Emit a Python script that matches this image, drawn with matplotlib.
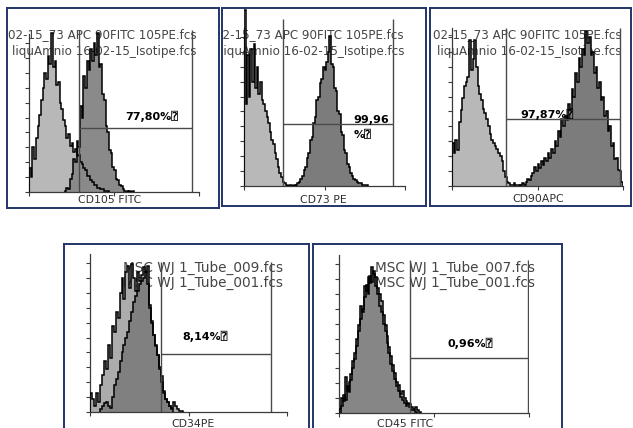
import numpy as np
import matplotlib
matplotlib.use("Agg")
import matplotlib.pyplot as plt

W, H = 633, 428
NAVY = "#22346a"

# 100 log-spaced channels over 4 decades, heights in % of the y axis
edges = np.logspace(0, 4, 101)

# CD105 FITC
iso1_start = 0
iso1 = [16, 10, 30, 22, 36, 44, 52, 62, 70, 80, 76, 91, 86, 107, 84, 88, 72, 74, 60, 56,
        48, 44, 36, 39, 31, 33, 27, 29, 24, 25, 20, 19, 16, 15, 11, 11, 8, 7, 5, 5,
        3, 3, 2, 2, 1, 1, 1]
cd105_start = 21
cd105 = [1, 3, 2, 9, 12, 22, 20, 34, 30, 58, 50, 78, 70, 88, 82, 96, 88, 100, 92, 107,
         84, 86, 66, 62, 44, 40, 28, 26, 17, 15, 9, 8, 5, 4, 2, 1, 1, 0, 1, 0, 1]

# CD73 PE
iso2_start = 0
iso2 = [118, 55, 88, 60, 92, 70, 95, 66, 80, 62, 70, 58, 55, 50, 46, 42, 36, 31, 28, 22,
        18, 13, 9, 6, 3, 2, 1, 0, 1, 1, 0, 1]
cd73_start = 32
cd73 = [1, 2, 3, 5, 7, 11, 13, 19, 22, 31, 33, 42, 46, 58, 60, 69, 72, 80, 78, 83,
        90, 101, 82, 80, 66, 64, 50, 48, 36, 34, 24, 22, 15, 13, 9, 7, 5, 4, 3, 2,
        2, 1, 1, 1, 1]

# CD90 APC
iso3_start = 0
iso3 = [29, 22, 31, 24, 43, 51, 59, 67, 70, 73, 98, 78, 85, 98, 80, 67, 62, 58, 52, 49,
        45, 40, 35, 31, 29, 27, 25, 22, 20, 17, 10, 6, 3, 2, 1, 1, 2, 1, 1, 1]
cd90_start = 40
cd90 = [1, 2, 1, 3, 5, 4, 7, 9, 13, 10, 15, 12, 17, 14, 19, 17, 22, 19, 25, 22,
        30, 27, 37, 33, 45, 40, 47, 44, 55, 52, 65, 60, 76, 70, 86, 80, 92, 88, 104, 96,
        100, 88, 90, 76, 80, 66, 70, 58, 60, 47, 50, 37, 40, 27, 29, 18, 19, 11, 10, 3]

# CD34 PE
tube009_start = 0
tube009 = [13, 9, 4, 13, 7, 18, 25, 34, 29, 45, 36, 58, 54, 67, 63, 80, 90, 76, 94, 98,
           83, 99, 90, 81, 94, 88, 92, 97, 94, 98, 72, 61, 52, 45, 38, 29, 20, 14, 9, 7,
           4, 3, 7, 4, 2, 1, 1]
tube001a_start = 5
tube001a = [2, 4, 6, 7, 4, 3, 10, 18, 22, 27, 34, 40, 45, 50, 54, 61, 67, 74, 78, 81,
            86, 88, 90, 94, 86, 70, 60, 52, 44, 38, 30, 24, 13, 9, 7, 4, 2]

# CD45 FITC
tube007_start = 0
tube007 = [3, 10, 8, 24, 15, 21, 26, 35, 40, 50, 59, 72, 68, 85, 82, 91, 87, 98, 93, 91,
           84, 80, 75, 66, 59, 52, 44, 38, 32, 27, 21, 19, 13, 15, 10, 8, 7, 6, 4, 3,
           4, 2, 1]
tube001b_start = 1
tube001b = [5, 12, 9, 18, 14, 22, 30, 36, 45, 55, 63, 70, 78, 86, 80, 92, 88, 95, 85, 80,
            72, 68, 60, 55, 47, 40, 33, 28, 23, 18, 15, 11, 9, 7, 5, 6, 4, 2, 2, 1]

axis_labels = ["CD105 FITC", "CD73 PE", "CD90APC", "CD34PE", "CD45 FITC"]
header1 = ["02-15_73 APC 90FITC 105PE.fcs", "02-15_73 APC 90FITC 105PE.fcs",
           "02-15_73 APC 90FITC 105PE.fcs", "MSC WJ 1_Tube_009.fcs", "MSC WJ 1_Tube_007.fcs"]
header2 = ["liquAmnio 16-02-15_Isotipe.fcs", "liquAmnio 16-02-15_Isotipe.fcs",
           "liquAmnio 16-02-15_Isotipe.fcs", "MSC WJ 1_Tube_001.fcs", "MSC WJ 1_Tube_001.fcs"]
pct_labels = ["77,80%\u2370", "99,96\n%\u2370", "97,87%\u2370", "8,14%\u2370", "0,96%\u2370"]
gate_lo = [15.0, 9.1, 18.7, 27.5, 31.0]
gate_hi = [6900, 4900, 8300, 4750, 9600]
gate_y = [42.7, 41.6, 45.0, 38.7, 36.6]
gate_top = [109, 112, 106, 101, 103]
label_x = [760, 525, 170, 219, 570]
label_y = [50.5, 39.0, 48.0, 50.6, 47.0]

series = [
    [(iso1_start, iso1, "#b8b8b8"), (cd105_start, cd105, "#8a8a8a")],
    [(iso2_start, iso2, "#b8b8b8"), (cd73_start, cd73, "#7c7c7c")],
    [(iso3_start, iso3, "#b8b8b8"), (cd90_start, cd90, "#7c7c7c")],
    [(tube009_start, tube009, "#acacac"), (tube001a_start, tube001a, "#808080")],
    [(tube007_start, tube007, "#9c9c9c"), (tube001b_start, tube001b, "#868686")],
]

# layout in pixels
boxes = [(7, 8, 219, 208), (222, 8, 426, 206), (430, 8, 631, 206),
         (64, 244, 309, 440), (313, 244, 562, 440)]
plots = [(29, 199, 192), (244, 405, 186), (452, 623, 186), (90, 287, 412), (339, 529, 413)]
text_right = [197, 404, 622, 283, 535]
text_y = [(35, 52), (35, 52), (35, 52), (268, 283), (268, 283)]
text_size = [8.6, 8.6, 8.6, 9.8, 9.8]
xlab_pos = [(110, 200), (323, 200), (538, 199), (193, 424), (405, 424)]
SCALE = 149.0  # pixels per 100 %

fig = plt.figure(figsize=(W / 100, H / 100), dpi=100)


def px_axes(x0, y0, x1, y1):
    return fig.add_axes([x0 / W, 1 - y1 / H, (x1 - x0) / W, (y1 - y0) / H])


for i in range(5):
    bx0, by0, bx1, by1 = boxes[i]
    box = px_axes(bx0, by0, bx1, by1)
    box.set_xticks([])
    box.set_yticks([])
    box.set_xlim(bx0, bx1)
    box.set_ylim(by1, by0)
    for s in box.spines.values():
        s.set_color(NAVY)
        s.set_linewidth(1.4)
    for txt, ty in zip((header1[i], header2[i]), text_y[i]):
        box.text(text_right[i], ty, txt, ha="right", va="center", fontsize=text_size[i],
                 color="#454545", clip_on=True)
    box.text(xlab_pos[i][0], xlab_pos[i][1], axis_labels[i], ha="center", va="center",
             fontsize=7.8, color="#303030", clip_on=True)

    px0, px1, base = plots[i]
    ax = px_axes(px0, by0 + 1, px1, base)
    ax.set_facecolor("none")
    ax.set_xscale("log")
    ax.set_xlim(1, 1e4)
    ax.set_ylim(0, 100 * (base - by0 - 1) / SCALE)
    for name in ("top", "right"):
        ax.spines[name].set_visible(False)
    ax.spines["left"].set_bounds(0, 106)
    for name in ("left", "bottom"):
        ax.spines[name].set_color("#3a3a3a")
        ax.spines[name].set_linewidth(0.9)
    ax.set_yticks(range(0, 101, 10))
    ax.tick_params(axis="y", direction="out", length=3, width=0.8, color="#3a3a3a",
                   labelleft=False)
    ax.tick_params(axis="x", which="major", direction="out", length=3, width=0.8,
                   color="#3a3a3a", labelbottom=False)
    ax.tick_params(axis="x", which="minor", direction="out", length=2, width=0.7,
                   color="#3a3a3a", labelbottom=False)

    for start, vals, col in series[i]:
        e = edges[start:start + len(vals) + 1]
        ax.stairs(vals, e, fill=True, color=col, lw=0, zorder=2)
    for start, vals, col in series[i]:
        e = edges[start:start + len(vals) + 1]
        ax.stairs(vals, e, fill=False, color="black", lw=1.1, zorder=3)

    ax.vlines([gate_lo[i], gate_hi[i]], 0, gate_top[i], color="#4a4a4a", lw=1.0, zorder=4)
    ax.hlines(gate_y[i], gate_lo[i], gate_hi[i], color="#4a4a4a", lw=1.0, zorder=4)
    if "\n" in pct_labels[i]:
        ax.text(label_x[i], label_y[i], pct_labels[i], ha="left", va="center",
                fontsize=8, fontweight="bold", linespacing=1.6, zorder=5,
                family=["DejaVu Sans", "DejaVu Sans Mono"])
    else:
        ax.text(label_x[i], label_y[i], pct_labels[i], ha="center", va="center",
                fontsize=8, fontweight="bold", zorder=5,
                family=["DejaVu Sans", "DejaVu Sans Mono"])

fig.savefig("out.png", dpi=100)
